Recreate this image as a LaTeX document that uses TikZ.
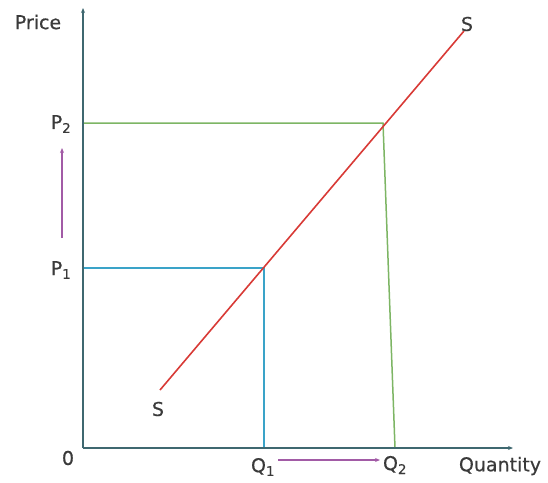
\documentclass[tikz,border=0pt]{standalone}
\usepackage{fontspec}
\setmainfont{DejaVu Sans}
\newfontfamily\lblfont{DejaVu Sans}[FakeBold=0.5]
\usetikzlibrary{arrows.meta}
\definecolor{axiscol}{HTML}{3F6870}
\definecolor{bluecol}{HTML}{3AA3C8}
\definecolor{greencol}{HTML}{7DB564}
\definecolor{redcol}{HTML}{D83A36}
\definecolor{purplecol}{HTML}{A25BA6}
\definecolor{textcol}{HTML}{3A3A3A}
\begin{document}
\begin{tikzpicture}[x=1pt,y=-1pt,
  axis/.style={draw=axiscol,line width=1.8pt,-{Stealth[length=5pt,width=4pt]}},
  lbl/.style={text=textcol,font=\lblfont\fontsize{19}{19}\selectfont,inner sep=0pt},
  shiftarrow/.style={draw=purplecol,line width=1.6pt,-{Stealth[length=5pt,width=4pt]}}]
\useasboundingbox (0,0) rectangle (548,482);
\coordinate (O) at (83,448);
\coordinate (ytop) at (83,8);
\coordinate (xend) at (513,448);
\coordinate (P2a) at (83,123);
\coordinate (E2) at (383,123);
\coordinate (Q2a) at (395,448);
\coordinate (P1a) at (83,268);
\coordinate (E1) at (264,268);
\coordinate (Q1a) at (264,448);
\coordinate (Slow) at (160,390);
\coordinate (Shigh) at (464,31);
\coordinate (pa1) at (62,238);
\coordinate (pa2) at (62,148);
\coordinate (qa1) at (278,460);
\coordinate (qa2) at (380,460);
% guide lines
\draw[greencol,line width=1.5pt] (P2a) -- (E2) -- (Q2a);
\draw[bluecol,line width=1.5pt] (P1a) -- (E1) -- (Q1a);
% supply curve
\draw[redcol,line width=1.6pt] (Slow) -- (Shigh);
% axes
\draw[axis] (O) -- (ytop);
\draw[axis] (O) -- (xend);
% shift arrows
\draw[shiftarrow] (pa1) -- (pa2);
\draw[shiftarrow] (qa1) -- (qa2);
% labels
\node[lbl] (price) at (38,22) {Price};
\node[lbl] (p2) at (61,124) {P\textsubscript{2}};
\node[lbl] (p1) at (61,270) {P\textsubscript{1}};
\node[lbl] (zero) at (68,458) {0};
\node[lbl] (q1) at (263,467) {Q\textsubscript{1}};
\node[lbl] (q2) at (395,465) {Q\textsubscript{2}};
\node[lbl] (qty) at (500,466) {Quantity};
\node[lbl] (slo) at (158,409) {S};
\node[lbl] (shi) at (467,24) {S};
\end{tikzpicture}
\end{document}
